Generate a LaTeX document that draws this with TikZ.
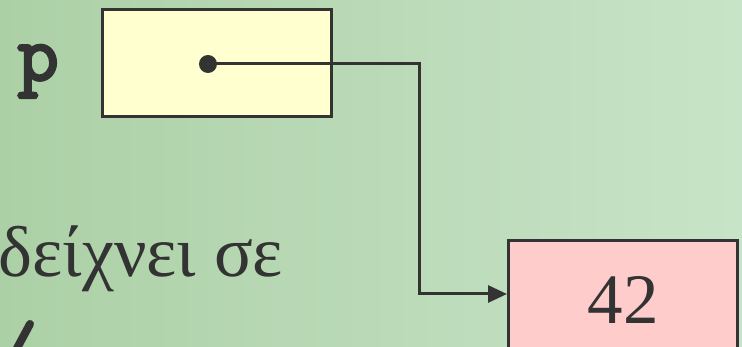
\documentclass[tikz,border=0pt]{standalone}
\usepackage{fontspec}
\setmainfont{Liberation Serif}
\newfontfamily\pvarfont{Latin Modern Mono}[FakeBold=3.5]
\usetikzlibrary{arrows.meta,positioning}
\definecolor{inkgray}{RGB}{51,51,51}
\definecolor{cellyellow}{RGB}{255,255,208}
\definecolor{cellpink}{RGB}{255,204,204}
\definecolor{bgleft}{RGB}{172,208,166}
\definecolor{bgright}{RGB}{200,228,200}

\begin{document}
\begin{tikzpicture}[x=1pt, y=-1pt, >=Stealth,
  cell/.style={draw=inkgray, line width=3pt, minimum width=229pt, inner sep=0pt},
  link/.style={draw=inkgray, line width=3pt}]
% background
\useasboundingbox (0,0) rectangle (742,347);
\shade[left color=bgleft, right color=bgright] (0,0) rectangle (742,347);
% pointer variable p
\node[cell, fill=cellyellow, minimum height=107pt] (pcell) at (216.5,63.5) {};
\node[anchor=base west, font=\fontsize{80}{80}\pvarfont\bfseries, text=inkgray] (pname) at (14,80) {p};
\node[circle, fill=inkgray, inner sep=0pt, minimum size=18pt] (dot) at (208,64) {};
% target cell
\node[cell, fill=cellpink, minimum height=118pt, font=\fontsize{71}{71}\selectfont, text=inkgray] (target) at (623,300) {42};
\node[anchor=base west, font=\fontsize{72}{72}\selectfont, text=inkgray] (caption) at (-5,277) {δείχνει σε};
\draw[inkgray, line width=8pt, line cap=round] (30,324) -- (15,352);
% arrow
\coordinate (turn) at (419,294);
\draw[link, -{Triangle[length=19pt,width=17pt]}] (dot.center) -| (turn) -- (turn -| target.west);
\end{tikzpicture}
\end{document}
